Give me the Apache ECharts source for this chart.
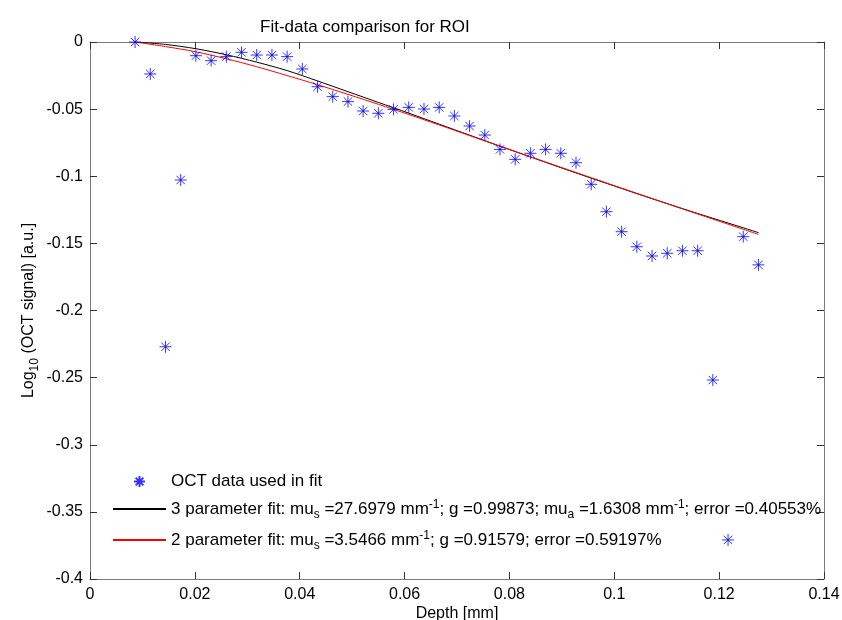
<!DOCTYPE html>
<html>
<head>
<meta charset="utf-8">
<script src="https://cdn.jsdelivr.net/npm/echarts@6/dist/echarts.min.js"></script>
<style>
  html, body { margin: 0; padding: 0; background: #fff; }
  #chart { width: 842px; height: 620px; }
</style>
</head>
<body>
<div id="chart"></div>
<script>
// measured OCT points (depth in mm, log10 signal)
const depth = [0.0086, 0.0115, 0.0144, 0.0173, 0.0202, 0.0231, 0.0260, 0.0289, 0.0318, 0.0347,
  0.0376, 0.0405, 0.0434, 0.0463, 0.0492, 0.0521, 0.0550, 0.0579, 0.0608, 0.0637,
  0.0666, 0.0695, 0.0724, 0.0753, 0.0782, 0.0811, 0.0840, 0.0869, 0.0898, 0.0927,
  0.0956, 0.0985, 0.1014, 0.1043, 0.1072, 0.1101, 0.1130, 0.1159, 0.1188, 0.1217,
  0.1246, 0.1275];
const signal = [0, -0.0238, -0.2270, -0.1028, -0.0102, -0.0139, -0.0109, -0.0077, -0.0097, -0.0097,
  -0.0109, -0.0201, -0.0333, -0.0407, -0.0444, -0.0514, -0.0531, -0.0502, -0.0487, -0.0499,
  -0.0487, -0.0551, -0.0626, -0.0693, -0.0800, -0.0874, -0.0829, -0.0800, -0.0829, -0.0899,
  -0.1060, -0.1264, -0.1413, -0.1525, -0.1594, -0.1574, -0.1555, -0.1555, -0.2518, -0.3709,
  -0.1450, -0.1660];

// fitted curves
const fitDepth = [0.0086, 0.0144, 0.0202, 0.0260, 0.0318, 0.0376, 0.0434, 0.0492, 0.0550, 0.0608,
  0.0666, 0.0724, 0.0782, 0.0840, 0.0898, 0.0956, 0.1014, 0.1072, 0.1130, 0.1188,
  0.1246, 0.1275];
const fit3 = [0, -0.0018, -0.0050, -0.0095, -0.0150, -0.0213, -0.0290, -0.0370, -0.0450, -0.0530,
  -0.0612, -0.0694, -0.0776, -0.0856, -0.0936, -0.1014, -0.1091, -0.1167, -0.1241, -0.1313,
  -0.1384, -0.1420];
const fit2 = [0, -0.0034, -0.0073, -0.0125, -0.0184, -0.0250, -0.0318, -0.0390, -0.0464, -0.0540,
  -0.0618, -0.0697, -0.0776, -0.0855, -0.0933, -0.1011, -0.1089, -0.1166, -0.1243, -0.1319,
  -0.1395, -0.1433];

const xTicks = [0, 0.02, 0.04, 0.06, 0.08, 0.1, 0.12, 0.14];
const yTicks = [0, -0.05, -0.1, -0.15, -0.2, -0.25, -0.3, -0.35, -0.4];

const legendNames = [
  "OCT data used in fit",
  "3 parameter fit: mu{sub|s} =27.6979 mm{sup|-1}; g =0.99873; mu{sub|a} =1.6308 mm{sup|-1}; error =0.40553%",
  "2 parameter fit: mu{sub|s} =3.5466 mm{sup|-1}; g =0.91579; error =0.59197%"
];

const FONT = "'Liberation Sans', Arial, sans-serif";
const asterisk = "path://M5,0 L5,10 M0,5 L10,5 M1.5,1.5 L8.5,8.5 M1.5,8.5 L8.5,1.5";

function fmt(v) {
  return String(Math.round(v * 1000) / 1000);
}

const chart = echarts.init(document.getElementById("chart"), null, { renderer: "canvas" });

const axisLine = { onZero: false, lineStyle: { color: "#7a7a7a", width: 1 } };
const tick = { inside: true, length: 7, lineStyle: { color: "#333" } };

chart.setOption({
  animation: false,
  backgroundColor: "#fff",
  textStyle: { fontFamily: FONT },
  title: {
    text: "Fit-data comparison for ROI",
    left: 255,
    top: 14,
    textStyle: { fontSize: 17, fontWeight: "normal", color: "#000", fontFamily: FONT }
  },
  grid: { left: 90, right: 18, top: 42, bottom: 41, outerBoundsMode: "none", containLabel: false },
  legend: {
    orient: "vertical",
    left: 112,
    top: 473,
    padding: 0,
    itemWidth: 53,
    itemHeight: 11,
    itemGap: 9,
    data: [
      { name: legendNames[0] },
      { name: legendNames[1], itemStyle: { opacity: 0 } },
      { name: legendNames[2], itemStyle: { opacity: 0 } }
    ],
    textStyle: {
      fontSize: 17,
      color: "#000",
      fontFamily: FONT,
      rich: {
        sub: { fontSize: 12, fontFamily: FONT, color: "#000", padding: [12, 0, 0, 0] },
        sup: { fontSize: 12, fontFamily: FONT, color: "#000", padding: [0, 0, 8, 0] }
      }
    }
  },
  xAxis: [
    {
      type: "value", min: 0, max: 0.14, interval: 0.02,
      name: "Depth [mm]", nameLocation: "middle", nameGap: 27, nameMoveOverlap: false,
      nameTextStyle: { fontSize: 16, color: "#000", fontFamily: FONT },
      axisLine: axisLine, axisTick: tick, splitLine: { show: false },
      axisLabel: { color: "#000", fontSize: 16, margin: 8, formatter: v => fmt(v) }
    },
    {
      type: "value", position: "top", min: 0, max: 0.14, interval: 0.02,
      axisLine: axisLine, axisTick: tick, splitLine: { show: false },
      axisLabel: { show: false }
    }
  ],
  yAxis: [
    {
      type: "value", min: -0.4, max: 0, interval: 0.05,
      name: "Log{sub|10} (OCT signal) [a.u.]", nameLocation: "middle", nameGap: 49, nameRotate: 90,
      nameMoveOverlap: false,
      nameTextStyle: {
        fontSize: 16, color: "#000", fontFamily: FONT,
        rich: { sub: { fontSize: 12, fontFamily: FONT, color: "#000", padding: [12, 0, 0, 0] } }
      },
      axisLine: axisLine, axisTick: tick, splitLine: { show: false },
      axisLabel: { color: "#000", fontSize: 16, margin: 7, formatter: v => fmt(v) }
    },
    {
      type: "value", position: "right", min: -0.4, max: 0, interval: 0.05,
      axisLine: axisLine, axisTick: tick, splitLine: { show: false },
      axisLabel: { show: false }
    }
  ],
  series: [
    {
      name: legendNames[0],
      type: "scatter",
      data: depth.map((d, i) => [d, signal[i]]),
      symbol: asterisk,
      symbolSize: 12,
      itemStyle: { color: "none", borderColor: "#0000ff", borderWidth: 1 },
      z: 3
    },
    {
      name: legendNames[1],
      type: "line",
      data: fitDepth.map((d, i) => [d, fit3[i]]),
      symbol: "none",
      smooth: 0.3,
      lineStyle: { color: "#000", width: 1 },
      itemStyle: { color: "#000" }
    },
    {
      name: legendNames[2],
      type: "line",
      data: fitDepth.map((d, i) => [d, fit2[i]]),
      symbol: "none",
      smooth: 0.3,
      lineStyle: { color: "#ff0000", width: 1 },
      itemStyle: { color: "#ff0000" }
    }
  ]
});
</script>
</body>
</html>
